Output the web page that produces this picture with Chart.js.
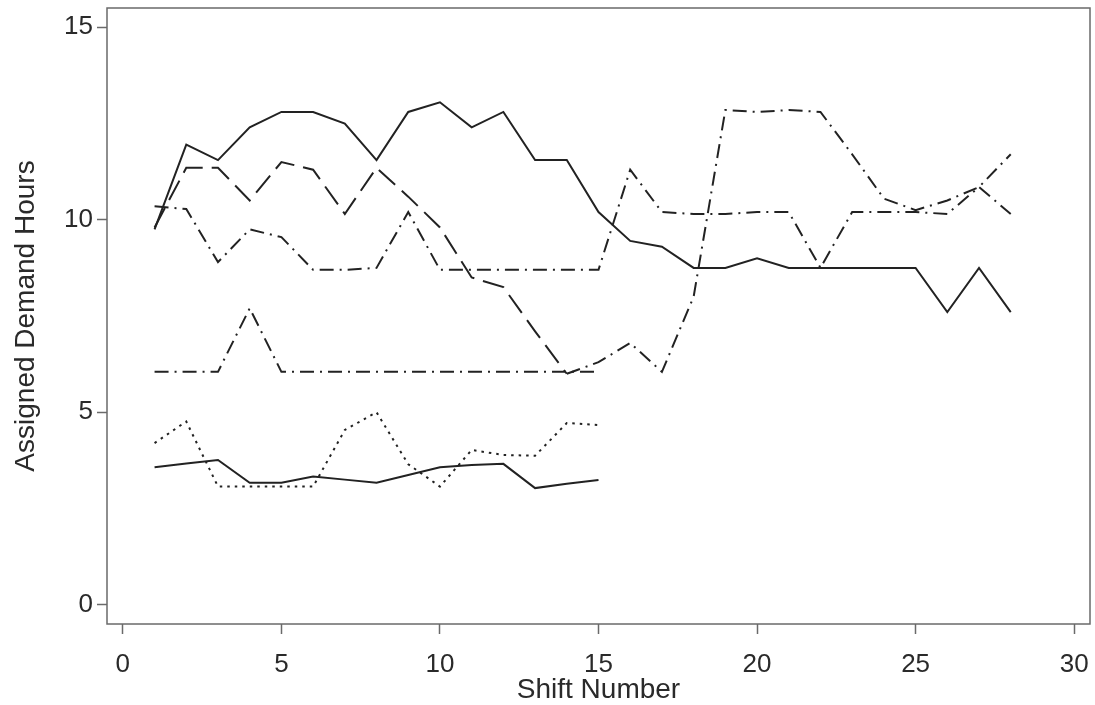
<!DOCTYPE html>
<html>
<head>
<meta charset="utf-8">
<script src="https://cdn.jsdelivr.net/npm/chart.js@4.4.1/dist/chart.umd.min.js"></script>
<style>
  body { margin: 0; background: #fff; }
  #wrap { width: 1095px; height: 705px; }
</style>
</head>
<body>
<div id="wrap"><canvas id="demandchart"></canvas></div>
<script>
// shift numbers
const shifts = [1, 2, 3, 4, 5, 6, 7, 8, 9, 10, 11, 12, 13, 14, 15,
                16, 17, 18, 19, 20, 21, 22, 23, 24, 25, 26, 27, 28];

// series (hours)
const solidTop = [9.75, 11.95, 11.55, 12.4, 12.8, 12.8, 12.5, 11.55, 12.8, 13.05, 12.4, 12.8, 11.55, 11.55,
                  10.2, 9.45, 9.3, 8.75, 8.75, 9.0, 8.75, 8.75, 8.75, 8.75, 8.75, 7.6, 8.75, 7.6];
const longDash = [9.8, 11.35, 11.35, 10.5, 11.5, 11.3, 10.15, 11.35, 10.6, 9.8, 8.5, 8.25, 7.1, 6.0,
                  6.3, 6.8, 6.05, 8.0, 12.85, 12.8, 12.85, 12.8, 11.7, 10.55, 10.25, 10.5, 10.85, 11.7];
const dashDotA = [10.35, 10.28, 8.9, 9.75, 9.55, 8.7, 8.7, 8.75, 10.2, 8.7, 8.7, 8.7, 8.7, 8.7,
                  8.7, 11.3, 10.2, 10.15, 10.15, 10.2, 10.2, 8.75, 10.2, 10.2, 10.2, 10.15, 10.85, 10.15];
const dashDotLow = [6.05, 6.05, 6.05, 7.7, 6.05, 6.05, 6.05, 6.05, 6.05, 6.05, 6.05, 6.05, 6.05, 6.05, 6.05];
const solidLow = [3.57, 3.67, 3.76, 3.17, 3.17, 3.33, 3.25, 3.17, 3.37, 3.57, 3.63, 3.66, 3.03, 3.14, 3.24];
const dotted = [4.2, 4.76, 3.07, 3.07, 3.07, 3.07, 4.54, 5.0, 3.65, 3.07, 4.02, 3.89, 3.87, 4.72, 4.67];

const xTicks = [0, 5, 10, 15, 20, 25, 30];
const yTicks = [0, 5, 10, 15];

const LINE = '#222';
const FONT = "'Liberation Sans', Arial, Helvetica, sans-serif";
const LONGDASH = [22, 9];
const DASHDOT = [14, 6, 2, 6];

function points(values){
    return values.map((v, i) => ({x: shifts[i], y: v}));
}

function makeSeries(values, dash, extra){
    return Object.assign({
        data: points(values),
        borderColor: LINE,
        borderWidth: 2,
        borderDash: dash,
        pointRadius: 0,
        tension: 0,
        fill: false
    }, extra || {});
}

// box around the plot area
const frame = {
    id: 'frame',
    afterDraw(chart){
        const a = chart.chartArea;
        const ctx = chart.ctx;
        ctx.save();
        ctx.strokeStyle = '#6a6a6a';
        ctx.lineWidth = 1.5;
        ctx.strokeRect(a.left, a.top, a.right - a.left, a.bottom - a.top);
        ctx.restore();
    }
};

function axisOpts(min, max, tickVals, title, isX){
    return {
        type: 'linear',
        min: min,
        max: max,
        afterBuildTicks: s => { s.ticks = tickVals.map(v => ({value: v})); },
        afterFit: s => {
            if (isX) { s.height = 81; s.paddingLeft = 0; s.paddingRight = 0; }
            else { s.width = 107; s.paddingTop = 0; s.paddingBottom = 0; }
        },
        border: {display: false},
        grid: {display: true, drawOnChartArea: false, drawTicks: true, tickLength: 10, tickColor: '#6a6a6a', tickWidth: 1.5},
        ticks: {color: '#2a2a2a', font: {family: FONT, size: 26}, padding: isX ? 15 : 4, maxRotation: 0},
        title: {
            display: true,
            text: title,
            color: '#2a2a2a',
            font: {family: FONT, size: 28},
            padding: isX ? {top: 0, bottom: -2} : {top: 9, bottom: 0}
        }
    };
}

new Chart(document.getElementById('demandchart').getContext('2d'), {
    type: 'line',
    data: {
        datasets: [
            makeSeries(solidTop, []),
            makeSeries(longDash, LONGDASH, {
                segment: {borderDash: ctx => ctx.p0DataIndex >= 13 ? DASHDOT : LONGDASH}
            }),
            makeSeries(dashDotA, DASHDOT),
            makeSeries(dashDotLow, DASHDOT),
            makeSeries(solidLow, []),
            makeSeries(dotted, [2.5, 5])
        ]
    },
    options: {
        responsive: true,
        maintainAspectRatio: false,
        animation: false,
        layout: {padding: {top: 8, right: 5, left: 0, bottom: 0}},
        plugins: {legend: {display: false}, tooltip: {enabled: false}},
        scales: {
            x: axisOpts(-0.5, 30.5, xTicks, 'Shift Number', true),
            y: axisOpts(-0.5, 15.5, yTicks, 'Assigned Demand Hours', false)
        }
    },
    plugins: [frame]
});
</script>
</body>
</html>
